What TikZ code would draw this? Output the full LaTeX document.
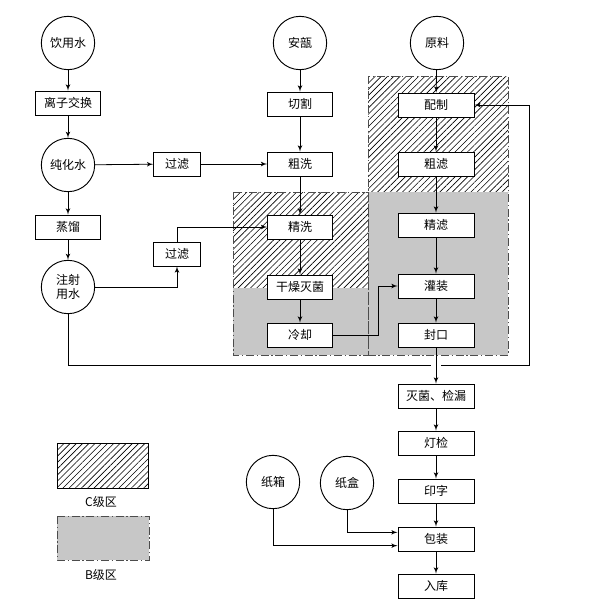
\documentclass[tikz,border=0pt]{standalone}
\usepackage{fontspec}
\setmainfont{Noto Sans CJK SC}
\usetikzlibrary{arrows,calc,patterns.meta}
\tikzstyle{proc}=[draw, fill=white, line width=0.7pt, minimum width=48.75pt,
	minimum height=18pt, inner sep=1pt, font=\fontsize{9}{10}\selectfont]
\tikzstyle{wideproc}=[proc, minimum width=57pt]
\tikzstyle{narrowproc}=[proc, minimum width=35pt]
\tikzstyle{source}=[draw, circle, line width=0.7pt, fill=white, minimum size=40pt,
	inner sep=0pt, align=center, font=\fontsize{9}{10}\selectfont]
\tikzstyle{line}=[draw, line width=0.6pt, -latex']
\tikzstyle{zoneC}=[pattern={Lines[angle=45,distance=3.3pt,line width=0.45pt]}]
\tikzstyle{zoneB}=[fill=black!22]
\tikzstyle{zoneborder}=[draw=black!70, line width=0.7pt, dash pattern=on 6pt off 2pt on 1pt off 2pt]
\tikzstyle{legend}=[font=\fontsize{9}{10}\selectfont]
\newcommand{\stepNode}[3]{node (#1) [#2] {#3}}
\begin{document}
\begin{tikzpicture}[x=0.75pt, y=-0.75pt]
	\useasboundingbox (0,0) rectangle (589,607);

	% Clean zones (drawn first, under the steps)
	\path[zoneC] (233,192) rectangle (368,288);
	\path[zoneB] (233,288) rectangle (368,355);
	\path[zoneC] (368,76) rectangle (508,192);
	\path[zoneB] (368,192) rectangle (508,355);
	\path[zoneborder] (233,192) rectangle (368,355);
	\path[zoneborder] (368,76) rectangle (508,355);

	% Water
	\path (68,43)  \stepNode{w1}{source}{饮用水};
	\path (68,103) \stepNode{w2}{proc}{离子交换};
	\path (68,165) \stepNode{w3}{source}{纯化水};
	\path (68,227) \stepNode{w4}{proc}{蒸馏};
	\path (68,287) \stepNode{w5}{source}{注射\\用水};
	\path (177,164) \stepNode{f1}{narrowproc}{过滤};
	\path (177,254) \stepNode{f2}{narrowproc}{过滤};

	% Ampoules
	\path (300,43)  \stepNode{a1}{source}{安瓿};
	\path (300,104) \stepNode{a2}{proc}{切割};
	\path (300,164) \stepNode{a3}{proc}{粗洗};
	\path (300,227) \stepNode{a4}{proc}{精洗};
	\path (300,287) \stepNode{a5}{proc}{干燥灭菌};
	\path (300,335) \stepNode{a6}{proc}{冷却};

	% Solution and finishing
	\path (437,43)  \stepNode{r1}{source}{原料};
	\path (436,105) \stepNode{r2}{wideproc}{配制};
	\path (436,164) \stepNode{r3}{wideproc}{粗滤};
	\path (436,225) \stepNode{r4}{wideproc}{精滤};
	\path (436,286) \stepNode{r5}{wideproc}{灌装};
	\path (436,335) \stepNode{r6}{wideproc}{封口};
	\path (436,396) \stepNode{r7}{wideproc}{灭菌、检漏};
	\path (436,443) \stepNode{r8}{wideproc}{灯检};
	\path (436,491) \stepNode{r9}{wideproc}{印字};
	\path (436,539) \stepNode{r10}{wideproc}{包装};
	\path (436,586) \stepNode{r11}{wideproc}{入库};

	% Packing material
	\path (273,482) \stepNode{pk1}{source}{纸箱};
	\path (347,483) \stepNode{pk2}{source}{纸盒};

	% Draw arrows between elements
	\path [line] (w1) -- (w2);
	\path [line] (w2) -- (w3);
	\path [line] (w3) -- (w4);
	\path [line] (w4) -- (w5);
	\path [line] (w3) -- (f1);
	\path [line] (f1) -- (a3);
	\path [line] (w5.east) -| (f2.south);
	\path [line] (f2.north) |- (a4.west);

	\path [line] (a1) -- (a2);
	\path [line] (a2) -- (a3);
	\path [line] (a3) -- (a4);
	\path [line] (a4) -- (a5);
	\path [line] (a5) -- (a6);
	\path [line] (a6.east) -- ++(45,0) |- (r5.west);

	\path [line] (r1) -- (r2);
	\path [line] (r2) -- (r3);
	\path [line] (r3) -- (r4);
	\path [line] (r4) -- (r5);
	\path [line] (r5) -- (r6);
	\path [line] (r6) -- (r7);
	\path [line] (r7) -- (r8);
	\path [line] (r8) -- (r9);
	\path [line] (r9) -- (r10);
	\path [line] (r10) -- (r11);

	% Water for injection back to the mixing step
	\coordinate (loop) at (529,365);
	\draw[line width=0.6pt] (w5.south) |- ($(r6.south |- loop)+(-5,0)$);
	\path [line] ($(r6.south |- loop)+(5,0)$) -- (loop) |- (r2.east);

	\path [line] (pk2.south) |- ([yshift=5pt]r10.west);
	\path [line] (pk1.south) |- ([yshift=-5pt]r10.west);

	% Legend
	\path[zoneC, draw, line width=0.7pt] (57,443) rectangle (148,488);
	\path (101,502) node (lc)[legend]{C级区};
	\path[zoneB, zoneborder] (57,516) rectangle (149,560);
	\path (101,575) node (lb)[legend]{B级区};

\end{tikzpicture}
\end{document}
